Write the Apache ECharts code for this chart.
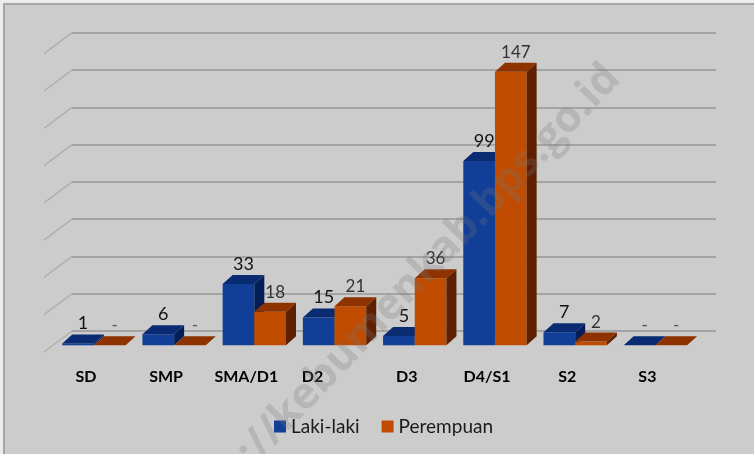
<!DOCTYPE html>
<html>
<head>
<meta charset="utf-8">
<script src="https://cdn.jsdelivr.net/npm/echarts@6/dist/echarts.min.js"></script>
<style>
  html, body { margin: 0; padding: 0; background: #ececec; }
  #chart { width: 754px; height: 454px; }
</style>
</head>
<body>
<div id="chart"></div>
<script>
// data
const categories = ['SD', 'SMP', 'SMA/D1', 'D2', 'D3', 'D4/S1', 'S2', 'S3'];
const lakiLaki = [1, 6, 33, 15, 5, 99, 7, 0];
const perempuan = [0, 0, 18, 21, 36, 147, 2, 0];
const yTicks = [0, 20, 40, 60, 80, 100, 120, 140, 160];

const FONT = 'Lato, "Open Sans", sans-serif';
// depth of the bar box
const DX = 10;
const DY = -9;

const blue = { front: '#113F97', top: '#0A2B72', side: '#041D57', label: '#111111' };
const orange = { front: '#BF4C00', top: '#8E3300', side: '#5E2000', label: '#333333' };

function barRenderer(side, c, fontSize) {
  return function (params, api) {
    const idx = api.value(0);
    const v = api.value(1);
    const base = api.coord([idx, 0]);
    const top = api.coord([idx, v]);
    const w = api.size([1, 0])[0] * 0.395;
    const x0 = side === 0 ? base[0] - w : base[0];
    const x1 = x0 + w;
    const yb = base[1];
    const yt = top[1];
    const children = [];
    if (yb - yt > 0.5) {
      children.push({
        type: 'rect',
        shape: { x: x0, y: yt, width: w, height: yb - yt },
        style: { fill: c.front }
      });
      children.push({
        type: 'polygon',
        shape: { points: [[x1, yt], [x1 + DX, yt + DY], [x1 + DX, yb + DY], [x1, yb]] },
        style: { fill: c.side }
      });
    }
    children.push({
      type: 'polygon',
      shape: { points: [[x0, yt], [x1, yt], [x1 + DX, yt + DY], [x0 + DX, yt + DY]] },
      style: { fill: c.top }
    });
    children.push({
      type: 'text',
      style: {
        text: v === 0 ? '-' : String(v),
        x: x0 + w / 2 + DX / 2,
        y: yt + DY - 2,
        align: 'center',
        verticalAlign: 'bottom',
        fill: v === 0 ? '#555' : c.label,
        font: fontSize + 'px ' + FONT
      }
    });
    return { type: 'group', children: children };
  };
}

const chart = echarts.init(document.getElementById('chart'), null, { renderer: 'canvas' });

chart.setOption({
  backgroundColor: '#CCCCCC',
  animation: false,
  grid: [
    // front plane, where the bars stand
    { left: 53.8, right: 58.5, top: 47.6, bottom: 108.7 },
    // back wall with gridlines
    { left: 72, right: 38, top: 32.7, bottom: 123 }
  ],
  xAxis: [
    {
      type: 'category',
      gridIndex: 0,
      data: categories,
      axisLine: { show: false },
      axisTick: { show: false },
      axisLabel: {
        interval: 0,
        margin: 24,
        fontFamily: FONT,
        fontWeight: 'bold',
        fontSize: 16,
        color: '#000',
        padding: [0, 16, 0, 0],
        formatter: v => (v === 'D2' ? '{d2|' + v + '}' : v),
        rich: { d2: { padding: [0, 28, 0, 0], fontWeight: 'bold', fontSize: 16, fontFamily: FONT, color: '#000' } }
      }
    },
    { type: 'value', gridIndex: 1, min: 0, max: 1, show: false }
  ],
  yAxis: [
    { type: 'value', gridIndex: 0, min: 0, max: 160, interval: 20, show: false },
    {
      type: 'value',
      gridIndex: 1,
      min: 0,
      max: 160,
      interval: 20,
      axisLine: { show: false },
      axisTick: { show: false },
      axisLabel: { show: false },
      splitLine: { lineStyle: { color: '#A4A4A4', width: 2 } }
    }
  ],
  legend: {
    left: 269,
    top: 412,
    icon: 'rect',
    itemWidth: 12,
    itemHeight: 12,
    itemGap: 22,
    textStyle: { fontFamily: FONT, fontSize: 19, color: '#1a1a1a' },
    data: ['Laki-laki', 'Perempuan']
  },
  series: [
    {
      // slanted side-wall lines at each gridline
      type: 'custom',
      name: 'wall',
      xAxisIndex: 1,
      yAxisIndex: 1,
      silent: true,
      data: yTicks.map(t => [0, t]),
      renderItem: function (params, api) {
        const p = api.coord([0, api.value(1)]);
        return {
          type: 'line',
          shape: { x1: p[0], y1: p[1], x2: p[0] - 28, y2: p[1] + 21 },
          style: { stroke: '#B0B0B0', lineWidth: 1.5 }
        };
      }
    },
    {
      type: 'custom',
      name: 'Laki-laki',
      itemStyle: { color: blue.front },
      data: lakiLaki.map((v, i) => [i, v]),
      renderItem: barRenderer(0, blue, 18)
    },
    {
      type: 'custom',
      name: 'Perempuan',
      itemStyle: { color: orange.front },
      data: perempuan.map((v, i) => [i, v]),
      renderItem: barRenderer(1, orange, 17)
    }
  ],
  graphic: [
    {
      type: 'text',
      x: 397,
      y: 299,
      rotation: 46.5 * Math.PI / 180,
      z: 100,
      silent: true,
      style: {
        text: 'http://kebumenkab.bps.go.id',
        align: 'center',
        verticalAlign: 'middle',
        font: 'bold 43px "Open Sans", sans-serif',
        fill: 'rgba(120,120,120,0.26)'
      }
    },
    { type: 'rect', shape: { x: 0, y: 0, width: 754, height: 3 }, style: { fill: '#ECECEC' }, z: 101 },
    { type: 'rect', shape: { x: 0, y: 0, width: 3, height: 454 }, style: { fill: '#ECECEC' }, z: 101 },
    { type: 'line', shape: { x1: 3, y1: 4, x2: 754, y2: 4 }, style: { stroke: '#A6A6A6', lineWidth: 2 }, z: 101 },
    { type: 'line', shape: { x1: 4, y1: 3, x2: 4, y2: 454 }, style: { stroke: '#A6A6A6', lineWidth: 2 }, z: 101 }
  ]
});
</script>
</body>
</html>
